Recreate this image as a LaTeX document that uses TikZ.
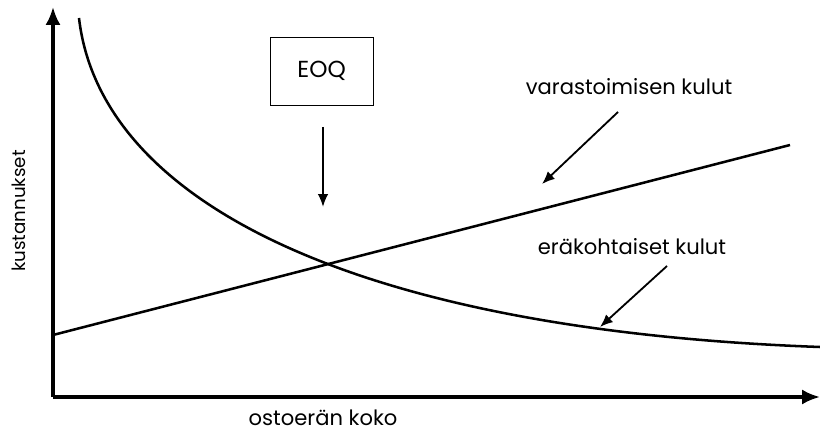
\documentclass[tikz,border=0pt]{standalone}
\usepackage{fontspec}
\setmainfont{Poppins}
\usetikzlibrary{arrows.meta}
\begin{document}
\begin{tikzpicture}[
    axis/.style={line width=2.4pt, -{Latex[length=4.5mm,width=3.8mm]}},
    curve/.style={line width=1.8pt},
    pointer/.style={line width=1.3pt, -{Latex[length=3.2mm,width=2.6mm]}},
    label/.style={font=\fontsize{15}{18}\selectfont, inner sep=0pt}
]
    \useasboundingbox (0, 0) rectangle (20.5, 10.825);

    \coordinate (o) at (1.325, 0.9);
    \coordinate (ytop) at (1.325, 10.65);
    \coordinate (xend) at (20.5, 0.9);
    \draw[axis] (o) -- (ytop);
    \draw[axis] (o) -- (xend);

    \node[label, anchor=base] (xlab) at (8.075, 0.2) {ostoerän koko};
    \node[label, anchor=base, rotate=90, font=\fontsize{13}{16}\selectfont]
        (ylab) at (0.625, 5.55) {kustannukset};

    % varastointi
    \coordinate (v0) at (1.325, 2.45);
    \coordinate (v1) at (19.75, 7.2);
    \draw[curve] (v0) -- (v1);

    % eräkohtaiset
    \coordinate (k0) at (1.975, 10.375);
    \coordinate (k1) at (20.5, 2.15);
    \draw[curve] (k0) .. controls (2.5, 5.825) and (8.75, 2.575) .. (k1);

    \node[draw, line width=0.7pt, minimum width=2.575cm, minimum height=1.7cm,
        font=\fontsize{16.5}{20}\selectfont] (eoq) at (8.04, 9.05) {EOQ};
    \coordinate (e0) at (8.075, 7.65);
    \coordinate (e1) at (8.075, 5.65);
    \draw[pointer] (e0) -- (e1);

    \node[label] (vlab) at (15.725, 8.65) {varastoimisen kulut};
    \coordinate (va) at (15.45, 8.025);
    \coordinate (vb) at (13.55, 6.225);
    \draw[pointer] (va) -- (vb);

    \node[label] (elab) at (15.8, 4.65) {eräkohtaiset kulut};
    \coordinate (ea) at (16.675, 4.175);
    \coordinate (eb) at (15, 2.65);
    \draw[pointer] (ea) -- (eb);

\end{tikzpicture}
\end{document}
